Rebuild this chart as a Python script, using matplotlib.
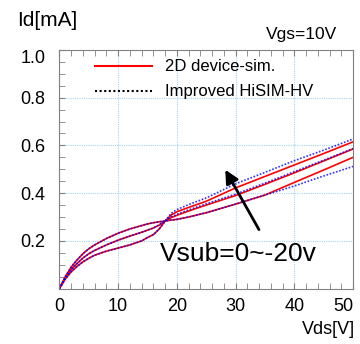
import matplotlib
matplotlib.use("Agg")
import matplotlib.pyplot as plt
from matplotlib.lines import Line2D
from matplotlib.ticker import MultipleLocator

plt.rcParams['font.family'] = ['Liberation Sans', 'DejaVu Sans']

# Vds [V]
vds = [0, 1, 2, 3, 4, 5, 6, 8, 10, 12, 14, 15, 16, 17, 18, 19, 20, 22, 25, 30, 35, 40, 45, 50]

# 2D device-sim. (red)  Vsub = 0, -10, -20
sim_0 = [0, 0.05, 0.09, 0.12, 0.146, 0.167, 0.183, 0.21, 0.232, 0.25, 0.264, 0.271, 0.276, 0.28,
         0.283, 0.287, 0.29, 0.3, 0.318, 0.354, 0.392, 0.445, 0.497, 0.55]
sim_10 = [0, 0.045, 0.08, 0.105, 0.128, 0.146, 0.16, 0.183, 0.203, 0.22, 0.236, 0.245, 0.254, 0.266,
          0.283, 0.297, 0.307, 0.325, 0.35, 0.39, 0.437, 0.485, 0.535, 0.585]
sim_20 = [0, 0.04, 0.07, 0.093, 0.112, 0.127, 0.14, 0.157, 0.17, 0.183, 0.2, 0.214, 0.226, 0.25,
          0.283, 0.308, 0.322, 0.34, 0.366, 0.422, 0.47, 0.518, 0.566, 0.615]

# Improved HiSIM-HV (blue dotted)
hisim_0 = [0, 0.05, 0.09, 0.12, 0.146, 0.167, 0.183, 0.21, 0.232, 0.25, 0.264, 0.271, 0.276, 0.28,
           0.283, 0.287, 0.29, 0.3, 0.318, 0.354, 0.392, 0.43, 0.472, 0.512]
hisim_10 = [0, 0.045, 0.08, 0.105, 0.128, 0.146, 0.16, 0.183, 0.203, 0.22, 0.236, 0.245, 0.254, 0.268,
            0.285, 0.3, 0.311, 0.33, 0.355, 0.396, 0.442, 0.49, 0.538, 0.587]
hisim_20 = [0, 0.04, 0.07, 0.093, 0.112, 0.127, 0.14, 0.157, 0.17, 0.183, 0.2, 0.214, 0.226, 0.25,
            0.283, 0.315, 0.331, 0.352, 0.38, 0.439, 0.487, 0.536, 0.58, 0.627]

fig = plt.figure(figsize=(3.6, 3.44), dpi=100)
ax = fig.add_axes([0.165, 0.161, 0.816, 0.694])

for y in [sim_0, sim_10, sim_20]:
    ax.plot(vds, y, color="red", lw=1.2)
for y in [hisim_0, hisim_10, hisim_20]:
    ax.plot(vds, y, color="blue", lw=1.2, ls=(0, (1, 1)), alpha=0.8)

ax.set_xlim(0, 50)
ax.set_ylim(0, 1.0)
ax.set_xticks([0, 10, 20, 30, 40, 50])
ax.set_yticks([0.2, 0.4, 0.6, 0.8, 1.0])
ax.set_yticklabels(["0.2", "0.4", "0.6", "0.8", "1.0"])
ax.xaxis.set_minor_locator(MultipleLocator(2))
ax.yaxis.set_minor_locator(MultipleLocator(0.05))
ax.tick_params(which="both", direction="in", top=True, right=False, length=4,
               color="gray", labelsize=13)
ax.tick_params(axis="x", pad=7)
ax.tick_params(axis="y", pad=10)
for s in ax.spines.values():
    s.set_color("gray")

# end labels sit inside the frame like in the original
ax.xaxis.get_major_ticks()[-1].label1.set_ha("right")
ax.yaxis.get_major_ticks()[-1].label1.set_va("top")

for v in [10, 20, 30, 40]:
    ax.axvline(v, color="#a8d4f0", lw=0.8, ls=(0, (1, 1)), zorder=0)
for v in [0.2, 0.4, 0.6, 0.8]:
    ax.axhline(v, color="#a8d4f0", lw=0.8, ls=(0, (1, 1)), zorder=0)

handles = [Line2D([], [], color="red", lw=1.5),
           Line2D([], [], color="black", lw=1.5, ls=(0, (1, 1.2)))]
ax.legend(handles, ["2D device-sim.", "Improved HiSIM-HV"], loc="upper left",
          bbox_to_anchor=(0.121, 0.96), frameon=False, fontsize=12,
          handlelength=3.4, handletextpad=0.8, labelspacing=0.6,
          borderpad=0, borderaxespad=0)

ax.annotate("", xy=(28.0, 0.508), xytext=(34.2, 0.237),
            arrowprops=dict(arrowstyle="-|>,head_length=0.8,head_width=0.4",
                            color="black", lw=2))
ax.text(17.1, 0.145, "Vsub=0~-20v", fontsize=19, va="center", ha="left")

fig.text(17 / 360, 1 - 21 / 344, "Id[mA]", fontsize=15, va="center", ha="left")
fig.text(337 / 360, 1 - 34 / 344, "Vgs=10V", fontsize=12.5, va="center", ha="right")
fig.text(355 / 360, 1 - 329 / 344, "Vds[V]", fontsize=13, va="center", ha="right")

fig.savefig("out.png", dpi=100)
